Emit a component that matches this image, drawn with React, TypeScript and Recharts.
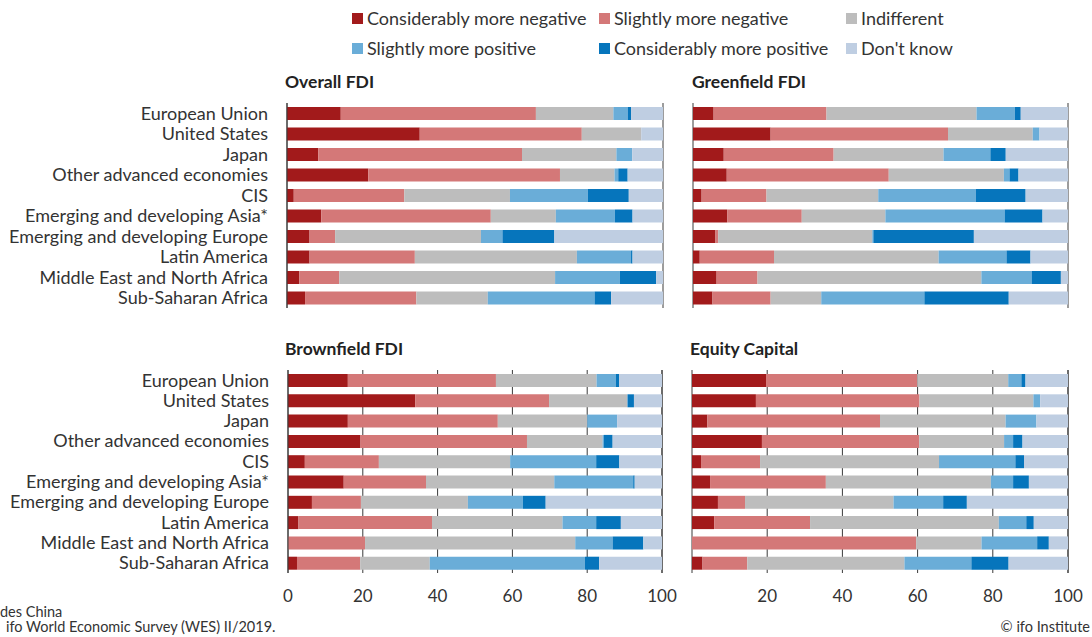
import React from 'react';
import { BarChart, Bar, XAxis, YAxis, CartesianGrid } from 'recharts';

const categories = [
  'European Union',
  'United States',
  'Japan',
  'Other advanced economies',
  'CIS',
  'Emerging and developing Asia*',
  'Emerging and developing Europe',
  'Latin America',
  'Middle East and North Africa',
  'Sub-Saharan Africa',
];

const seriesNames = [
  'Considerably more negative',
  'Slightly more negative',
  'Indifferent',
  'Slightly more positive',
  'Considerably more positive',
  "Don't know",
];
const seriesColors = ['#a21a1b', '#d47878', '#bdbdbd', '#6aadd8', '#0675bc', '#bfcee2'];

const xTicks = [0, 20, 40, 60, 80, 100];

// shares in %, per category: cons. neg, slightly neg, indifferent, slightly pos, cons. pos, don't know
const overallFdi = [
  [14.3, 51.9, 20.6, 3.8, 0.9, 8.5],
  [35.3, 43.1, 15.8, 0, 0, 5.8],
  [8.3, 54.2, 25.1, 4.2, 0, 8.2],
  [21.6, 51.0, 14.5, 1.0, 2.5, 9.4],
  [1.8, 29.4, 28.1, 20.7, 10.9, 9.1],
  [9.1, 45.1, 17.3, 15.7, 4.7, 8.1],
  [6.0, 6.8, 38.8, 5.7, 13.8, 28.9],
  [6.0, 28.0, 43.1, 14.4, 0.4, 8.1],
  [3.3, 10.6, 57.4, 17.2, 9.7, 1.8],
  [4.8, 29.6, 19.0, 28.4, 4.4, 13.8],
];

const greenfieldFdi = [
  [5.5, 30.1, 40.0, 10.2, 1.6, 12.6],
  [20.7, 47.3, 22.6, 1.8, 0, 7.6],
  [8.2, 29.3, 29.3, 12.5, 4.1, 16.6],
  [9.0, 43.2, 30.7, 1.5, 2.4, 13.2],
  [2.3, 17.3, 29.8, 26.0, 13.3, 11.3],
  [9.1, 19.9, 22.3, 31.8, 10.1, 6.8],
  [6.0, 0.7, 41.1, 0.3, 26.8, 25.1],
  [1.8, 19.8, 43.9, 18.1, 6.4, 10.0],
  [6.3, 10.9, 59.7, 13.4, 7.8, 1.9],
  [5.2, 15.5, 13.5, 27.5, 22.5, 15.8],
];

const brownfieldFdi = [
  [16.0, 39.6, 26.9, 5.2, 0.8, 11.5],
  [34.0, 35.8, 20.9, 0.1, 1.7, 7.5],
  [16.0, 40.1, 23.9, 8.0, 0, 12.0],
  [19.4, 44.5, 20.2, 0.3, 2.4, 13.2],
  [4.5, 19.8, 35.1, 23.0, 6.2, 11.4],
  [14.9, 22.0, 34.3, 21.1, 0.4, 7.3],
  [6.4, 13.1, 28.6, 14.7, 6.1, 31.1],
  [2.8, 35.7, 34.9, 9.0, 6.6, 11.0],
  [0, 20.6, 56.2, 10.0, 8.2, 5.0],
  [2.4, 16.9, 18.6, 41.5, 3.8, 16.8],
];

const equityCapital = [
  [19.7, 40.2, 24.2, 3.5, 1.1, 11.3],
  [17.0, 43.5, 30.3, 1.8, 0, 7.4],
  [4.1, 45.9, 33.4, 8.2, 0, 8.4],
  [18.6, 41.8, 22.6, 2.4, 2.5, 12.1],
  [2.4, 15.7, 47.6, 20.3, 2.3, 11.7],
  [4.8, 30.8, 43.9, 5.9, 4.2, 10.4],
  [6.9, 7.2, 39.5, 13.2, 6.3, 26.9],
  [5.9, 25.5, 50.2, 7.3, 2.0, 9.1],
  [0, 59.6, 17.4, 14.8, 3.1, 5.1],
  [2.8, 11.9, 41.8, 17.8, 9.9, 15.8],
];

const FONT = 'Lato, "Noto Sans", sans-serif';
const TEXT = '#333333';

const toRows = (values: number[][]) =>
  categories.map((name, i) => {
    const row: Record<string, any> = { name };
    seriesNames.forEach((_, j) => {
      row['s' + j] = values[i][j];
    });
    return row;
  });

interface PanelProps {
  title: string;
  values: number[][];
  plotLeft: number;
  plotTop: number;
  plotWidth: number;
  plotHeight: number;
  labels: boolean;
  ticks: boolean;
  titleLeft: number;
}

function Panel({ title, values, plotLeft, plotTop, plotWidth, plotHeight, labels, ticks, titleLeft }: PanelProps) {
  const yWidth = labels ? 283 : 0;
  const xHeight = ticks ? 40 : 0;
  const width = yWidth + plotWidth + 24;
  const height = plotHeight + xHeight + 4;
  return (
    <>
      <div style={{
        position: 'absolute', left: titleLeft, top: plotTop - 32, fontSize: 17.5,
        fontWeight: 700, color: '#222', lineHeight: '22px', whiteSpace: 'nowrap',
      }}>
        {title}
      </div>
      <div style={{ position: 'absolute', left: plotLeft - yWidth - 4, top: plotTop - 2 }}>
        <BarChart
          width={width}
          height={height}
          data={toRows(values)}
          layout="vertical"
          barSize={13}
          margin={{ top: 2, right: 20, bottom: 2, left: 4 }}
        >
          <CartesianGrid horizontal={false} stroke="#3a3a3a" strokeWidth={1} />
          <XAxis
            type="number"
            domain={[0, 100]}
            ticks={xTicks}
            axisLine={false}
            tickLine={false}
            tickSize={0}
            tickMargin={17}
            height={xHeight}
            tick={ticks ? { fill: TEXT, fontSize: 17, fontFamily: FONT } : false}
          />
          <YAxis
            type="category"
            dataKey="name"
            width={yWidth}
            axisLine={{ stroke: '#3a3a3a', strokeWidth: 1 }}
            tickLine={false}
            tickSize={0}
            tickMargin={19}
            interval={0}
            tick={labels ? { fill: TEXT, fontSize: 18, fontFamily: FONT } : false}
          />
          {seriesNames.map((s, j) => (
            <Bar
              key={s}
              dataKey={'s' + j}
              name={s}
              stackId="a"
              fill={seriesColors[j]}
              isAnimationActive={false}
            />
          ))}
        </BarChart>
      </div>
    </>
  );
}

function LegendItem({ label, color, left, top }: { label: string; color: string; left: number; top: number }) {
  return (
    <div style={{ position: 'absolute', left, top, display: 'flex', alignItems: 'center', whiteSpace: 'nowrap' }}>
      <span style={{ width: 11, height: 11, background: color, display: 'inline-block', marginRight: 4 }} />
      <span style={{ fontSize: 18, color: TEXT, lineHeight: '22px' }}>{label}</span>
    </div>
  );
}

export default function App() {
  const legendCols = [352, 599, 846];
  const legendRows = [7, 37];
  return (
    <div style={{
      position: 'absolute', left: 0, top: 0, width: 1092, height: 637,
      background: '#fff', fontFamily: FONT, overflow: 'hidden',
    }}>
      {seriesNames.map((s, j) => (
        <LegendItem
          key={s}
          label={s}
          color={seriesColors[j]}
          left={legendCols[j % 3]}
          top={legendRows[Math.floor(j / 3)]}
        />
      ))}

      <Panel title="Overall FDI" values={overallFdi} plotLeft={287} plotTop={103} plotWidth={376} plotHeight={205} labels ticks={false} titleLeft={285} />
      <Panel title="Greenfield FDI" values={greenfieldFdi} plotLeft={693} plotTop={103} plotWidth={375} plotHeight={205} labels={false} ticks={false} titleLeft={692} />
      <Panel title="Brownfield FDI" values={brownfieldFdi} plotLeft={288} plotTop={370} plotWidth={374} plotHeight={203} labels ticks titleLeft={285} />
      <Panel title="Equity Capital" values={equityCapital} plotLeft={692} plotTop={370} plotWidth={376} plotHeight={203} labels={false} ticks titleLeft={690} />

      <div style={{ position: 'absolute', left: 0, top: 604, fontSize: 14.5, color: TEXT, lineHeight: '15px', whiteSpace: 'nowrap' }}>
        des China
      </div>
      <div style={{ position: 'absolute', left: 6, top: 619, fontSize: 14.5, color: TEXT, lineHeight: '15px', whiteSpace: 'nowrap' }}>
        ifo World Economic Survey (WES) II/2019.
      </div>
      <div style={{ position: 'absolute', right: 2, top: 619, fontSize: 14.5, color: TEXT, lineHeight: '15px', whiteSpace: 'nowrap' }}>
        © ifo Institute
      </div>
    </div>
  );
}
